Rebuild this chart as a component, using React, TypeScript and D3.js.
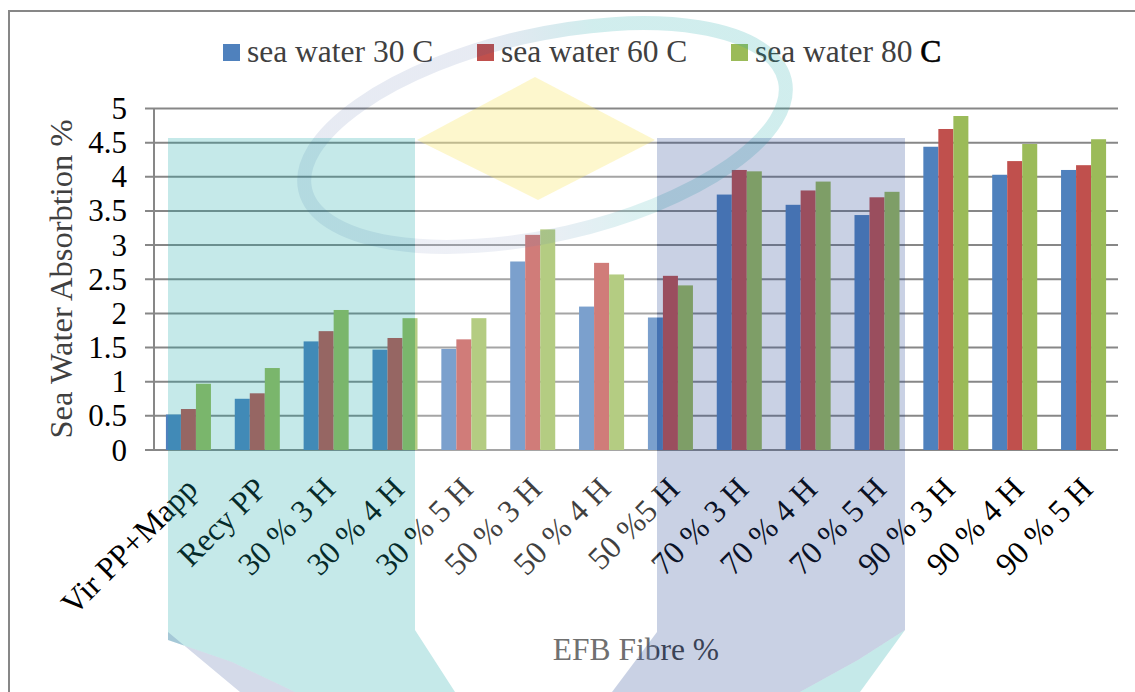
import React from 'react';
import * as d3 from 'd3';

// Sea water absorption (%) per composite, at three water temperatures
const categories = [
  'Vir PP+Mapp', 'Recy PP', '30 % 3 H', '30 % 4 H', '30 % 5 H', '50 % 3 H', '50 % 4 H',
  '50 %5 H', '70 % 3 H', '70 % 4 H', '70 % 5 H', '90 % 3 H', '90 % 4 H', '90 % 5 H',
];
const seriesNames = ['sea water 30 C', 'sea water 60 C', 'sea water 80 C'];
const water30 = [0.52, 0.75, 1.59, 1.47, 1.48, 2.76, 2.10, 1.94, 3.74, 3.59, 3.44, 4.44, 4.03, 4.10];
const water60 = [0.60, 0.83, 1.74, 1.64, 1.62, 3.15, 2.74, 2.55, 4.10, 3.80, 3.70, 4.70, 4.23, 4.17];
const water80 = [0.97, 1.20, 2.05, 1.93, 1.93, 3.23, 2.57, 2.41, 4.08, 3.93, 3.78, 4.89, 4.48, 4.55];
const yTicks = [0, 0.5, 1, 1.5, 2, 2.5, 3, 3.5, 4, 4.5, 5];

const seriesValues = [water30, water60, water80];
const seriesColors = ['#4F81BD', '#C0504D', '#9BBB59'];

const W = 1135;
const H = 692;
const plot = { left: 154, right: 1118, top: 108.5, bottom: 450 };
const SERIF = '"Liberation Serif", "Times New Roman", serif';

export default function App() {
  const x = d3
    .scaleBand<string>()
    .domain(categories)
    .range([plot.left, plot.right])
    .paddingInner(0.346)
    .paddingOuter(0.173);
  const xs = d3.scaleBand<number>().domain([0, 1, 2]).range([0, x.bandwidth()]);
  const y = d3.scaleLinear().domain([0, 5]).range([plot.bottom, plot.top]);

  const legendX = [223, 477, 731];

  return (
    <svg
      width={W}
      height={H}
      viewBox={`0 0 ${W} ${H}`}
      style={{ position: 'absolute', left: 0, top: 0, display: 'block', background: '#fff' }}
    >
      <defs>
        <linearGradient id="ringGrad" gradientUnits="userSpaceOnUse" x1="305" y1="0" x2="785" y2="0">
          <stop offset="0" stopColor="rgb(39,71,147)" stopOpacity={0.55} />
          <stop offset="0.4" stopColor="rgb(39,71,147)" stopOpacity={0.55} />
          <stop offset="0.65" stopColor="rgb(23,167,167)" stopOpacity={1} />
          <stop offset="1" stopColor="rgb(23,167,167)" stopOpacity={1} />
        </linearGradient>
      </defs>

      {/* chart frame */}
      <path d={`M9,${H} V11 H${W}`} fill="none" stroke="#878787" strokeWidth={2} />

      {/* legend */}
      {seriesNames.map((name, i) => (
        <g key={name}>
          <rect x={legendX[i]} y={44} width={17} height={17} fill={seriesColors[i]} />
          <text
            x={legendX[i] + 24}
            y={62}
            fontFamily={SERIF}
            fontSize={31.5}
            fill="#404040"
          >
            {i === 2 ? (
              <>
                {'sea water 80 '}
                <tspan fill="#000" stroke="#000" strokeWidth={0.6}>C</tspan>
              </>
            ) : (
              name
            )}
          </text>
        </g>
      ))}

      {/* gridlines and ticks */}
      {yTicks.map((t) => (
        <line
          key={t}
          x1={145}
          x2={plot.right}
          y1={y(t)}
          y2={y(t)}
          stroke="#878787"
          strokeWidth={2}
        />
      ))}
      <line x1={plot.left} x2={plot.left} y1={plot.top} y2={plot.bottom} stroke="#878787" strokeWidth={2} />
      {yTicks.map((t) => (
        <text
          key={`l${t}`}
          x={127}
          y={y(t) + 10.5}
          textAnchor="end"
          fontFamily={SERIF}
          fontSize={31}
          fill="#000"
        >
          {String(t)}
        </text>
      ))}

      {/* bars */}
      {categories.map((c, ci) => (
        <g key={c} transform={`translate(${x(c)},0)`}>
          {seriesValues.map((vals, si) => (
            <rect
              key={si}
              x={xs(si)}
              y={y(vals[ci])}
              width={xs.bandwidth()}
              height={y(0) - y(vals[ci])}
              fill={seriesColors[si]}
            />
          ))}
        </g>
      ))}

      {/* category labels */}
      {categories.map((c) => {
        const cx = (x(c) as number) + x.bandwidth() / 2 + 11;
        const cy = 491;
        return (
          <text
            key={`c${c}`}
            x={cx}
            y={cy}
            transform={`rotate(-45 ${cx} ${cy})`}
            textAnchor="end"
            fontFamily={SERIF}
            fontSize={32}
            fill="#000"
          >
            {c}
          </text>
        );
      })}

      {/* axis titles */}
      <text
        x={0}
        y={0}
        transform="translate(72,279) rotate(-90)"
        textAnchor="middle"
        fontFamily={SERIF}
        fontSize={32.5}
        fill="#404040"
      >
        Sea Water Absorbtion %
      </text>
      <text x={636} y={660} textAnchor="middle" fontFamily={SERIF} fontSize={31.5} fill="#404040">
        EFB Fibre %
      </text>

      {/* translucent emblem in the background of the page */}
      <g pointerEvents="none">
        <ellipse
          cx={545}
          cy={135}
          rx={246}
          ry={100}
          transform="rotate(-12.9 545 135)"
          fill="none"
          stroke="url(#ringGrad)"
          strokeOpacity={0.2}
          strokeWidth={14}
        />
        <polygon points="415,138 657,138 657,692 455,692 415,630" fill="#fff" fillOpacity={0.25} />
        <polygon points="535,77 655,140 538,200 417,140" fill="rgb(250,230,100)" fillOpacity={0.32} />
        <polygon
          points="168,138 415,138 415,630 455,692 295,692 232,662 168,640"
          fill="rgb(23,167,167)"
          fillOpacity={0.25}
        />
        <polygon points="168,640 232,662 295,692 240,692 168,632" fill="rgb(39,71,147)" fillOpacity={0.2} />
        <polygon
          points="657,138 905,138 905,630 858,660 800,692 612,692 657,632"
          fill="rgb(39,71,147)"
          fillOpacity={0.25}
        />
        <polygon points="905,630 860,692 800,692 858,660" fill="rgb(23,167,167)" fillOpacity={0.25} />
      </g>
    </svg>
  );
}
